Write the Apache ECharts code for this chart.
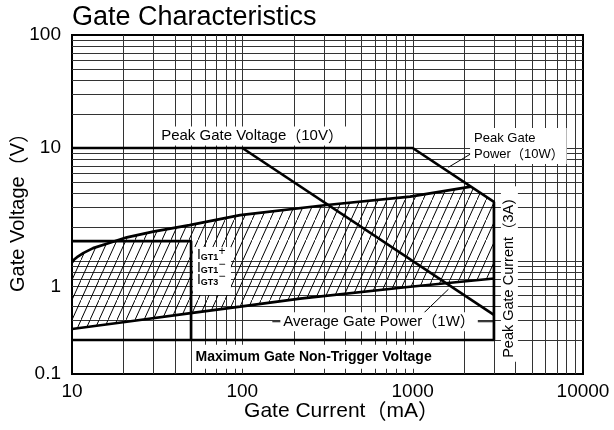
<!DOCTYPE html>
<html><head><meta charset="utf-8">
<script src="https://cdn.jsdelivr.net/npm/echarts@6/dist/echarts.min.js"></script>
<style>html,body{margin:0;padding:0;background:#fff}#c{width:614px;height:430px}</style>
</head><body><div id="c"></div>
<script>
// ---- data (mA, V) ----
const xTickLabels = ['10', '100', '1000', '10000'];
const yTickLabels = ['0.1', '1', '10', '100'];
const gridX = [20,30,40,50,60,70,80,90,100,200,300,400,500,600,700,800,900,1000,2000,3000,4000,5000,6000,7000,8000,9000];
const gridY = [0.2,0.3,0.4,0.5,0.6,0.7,0.8,0.9,1,2,3,4,5,6,7,8,9,10,20,30,40,50,60,70,80,90];
const peakBoundary = [[10,10],[1000,10],[3000,3.33],[3000,0.2],[10,0.2]];
const avgPower1W = [[100,10],[3000,0.333]];
const igtBox = [[10,1.5],[50,1.5],[50,0.2]];
const upperCurve = [[10,0.97],[10.3,1.03],[10.7,1.08],[11.7,1.18],[13.3,1.3],[16.7,1.45],[21,1.62],[30,1.82],[49,2.08],[97,2.55],[313,3.13],[966,3.71],[2200,4.55]];
const lowerCurve = [[10,0.25],[21,0.29],[51,0.347],[97,0.394],[218,0.464],[966,0.592],[3000,0.70]];
const hatchCorner = [[3000,3.33],[3000,0.70]];
const avgLeader = [[150,0.29],[3000,0.29]];
const arrowAvg = [[1156,0.344],[1621,0.562]];
const arrowPeak = [[2223,8.98],[1621,6.75]];

const LAT = "'Liberation Sans', Arial, sans-serif";
const CJK = "'Noto Sans CJK JP', sans-serif";
const chart = echarts.init(document.getElementById('c'), null, {renderer:'canvas'});

// rich text helper: Latin parts in Liberation Sans, full-width parentheses in Noto Sans CJK
function richText(s){
  return s.replace(/[^（）]+/g, m => '{a|' + m + '}').replace(/（/g, '{p|（}').replace(/）/g, '{p|）}');
}
function richStyles(size, weight){
  const w = weight || 'normal';
  return {a:{fontSize:size, fontFamily:LAT, fontWeight:w, color:'#000'}, p:{fontSize:size, fontFamily:CJK, fontWeight:w, color:'#000'}};
}

// hatch pattern tile
const tile = document.createElement('canvas');
tile.width = 9; tile.height = 20;
(function(){
  const g = tile.getContext('2d');
  g.strokeStyle = '#000'; g.lineWidth = 1;
  g.beginPath(); g.moveTo(-0.5, 21); g.lineTo(9.5, -1); g.stroke();
})();

function vGrid(params, api){
  const cs = params.coordSys;
  const x = Math.round(api.coord([api.value(0), 1])[0]) + 0.5;
  return {type:'line', silent:true, shape:{x1:x, y1:cs.y, x2:x, y2:cs.y+cs.height}, style:{stroke:'#333', lineWidth:1}};
}
function hGrid(params, api){
  const cs = params.coordSys;
  const y = Math.round(api.coord([10, api.value(1)])[1]) + 0.5;
  return {type:'line', silent:true, shape:{x1:cs.x, y1:y, x2:cs.x+cs.width, y2:y}, style:{stroke:'#333', lineWidth:1}};
}
function hatch(params, api){
  const pts = upperCurve.concat(hatchCorner, lowerCurve.slice().reverse()).map(p => api.coord(p));
  return {type:'polygon', silent:true, shape:{points:pts}, style:{fill:{image:tile, repeat:'repeat'}, stroke:null}};
}
function boldLine(data){
  return {type:'line', data:data, symbol:'none', silent:true, z:5, lineStyle:{color:'#000', width:2.7}, animation:false};
}

chart.setOption({
  animation:false,
  title:{text:'Gate Characteristics', left:72, top:4, padding:0,
    textStyle:{fontSize:27, fontWeight:'normal', color:'#000', fontFamily:LAT}},
  grid:{left:72, top:35, width:511, height:339, show:true, borderColor:'#000', borderWidth:2, backgroundColor:'#fff',
    outerBoundsMode:'none', containLabel:false},
  xAxis:{type:'log', logBase:10, min:10, max:10000,
    axisLine:{show:false}, axisTick:{show:false}, splitLine:{show:false},
    axisLabel:{fontSize:19, color:'#000', margin:8, fontFamily:LAT,
      formatter:v => xTickLabels[Math.round(Math.log10(v)) - 1]},
    name:richText('Gate Current（mA）'), nameLocation:'middle', nameGap:27, nameMoveOverlap:false,
    nameTextStyle:{fontSize:21, color:'#000', fontFamily:LAT, padding:[0,0,0,28], rich:richStyles(21)}},
  yAxis:{type:'log', logBase:10, min:0.1, max:100,
    axisLine:{show:false}, axisTick:{show:false}, splitLine:{show:false},
    axisLabel:{fontSize:19, color:'#000', margin:11, fontFamily:LAT,
      formatter:v => { const s = yTickLabels[Math.round(Math.log10(v)) + 1]; return s === '1' ? '{low|1}' : s; },
      rich:{low:{fontSize:19, color:'#000', fontFamily:LAT, padding:[52,0,0,0]}}},
    name:richText('Gate Voltage（V）'), nameLocation:'middle', nameGap:44, nameRotate:90, nameMoveOverlap:false,
    nameTextStyle:{fontSize:20, color:'#000', fontFamily:LAT, padding:[0,6,0,0], rich:richStyles(20)}},
  series:[
    {type:'custom', renderItem:vGrid, data:gridX.map(v=>[v,1]), z:1, silent:true, animation:false},
    {type:'custom', renderItem:hGrid, data:gridY.map(v=>[10,v]), z:1, silent:true, animation:false},
    {type:'custom', renderItem:hatch, data:[[10,1]], z:2, silent:true, animation:false},
    boldLine(peakBoundary),
    boldLine(avgPower1W),
    boldLine(igtBox),
    boldLine(upperCurve),
    boldLine(lowerCurve),
    {type:'line', data:avgLeader, symbol:'none', silent:true, z:4, lineStyle:{color:'#000', width:1}, animation:false,
      markLine:{silent:true, symbol:['none','arrow'], symbolSize:[0,7], label:{show:false}, animation:false,
        lineStyle:{type:'solid', color:'#000', width:1},
        data:[[{coord:arrowAvg[0]},{coord:arrowAvg[1]}],[{coord:arrowPeak[0]},{coord:arrowPeak[1]}]]}}
  ]
});

// ---- annotations (anchored in data coordinates) ----
const px = p => chart.convertToPixel({gridIndex:0}, p);
function txt(p, text, size, extra, weight){
  return {type:'text', z:100, silent:true, x:p[0], y:p[1],
    style:Object.assign({text:richText(text), rich:richStyles(size, weight), fill:'#000', align:'center', verticalAlign:'middle',
      backgroundColor:'#fff', padding:[2,3]}, extra||{})};
}

const pPGV = px([114, 12.8]);
const pPGP = px([2173, 10.4]);
const pAVG = px([635, 0.29]);
const pMAX = px([262, 0.142]);
const pPGC = px([3698, 0.767]);
const pIGT = px([51.3, 1.33]);

const graphics = [
  txt(pPGV, 'Peak Gate Voltage（10V）', 15, {padding:[2,4]}),
  txt(pPGP, 'Peak Gate\nPower（10W）', 13, {align:'left', lineHeight:16, padding:[2,3,2,4]}),
  txt(pAVG, 'Average Gate Power（1W）', 15, {padding:[2,3]}),
  txt(pMAX, 'Maximum Gate Non-Trigger Voltage', 14, {padding:[5,3]}, 'bold'),
  Object.assign(txt(pPGC, 'Peak Gate Current（3A）', 14.5, {padding:[1,4]}), {rotation:Math.PI/2}),
  {type:'rect', z:100, silent:true, shape:{x:pIGT[0], y:pIGT[1], width:38, height:48}, style:{fill:'#fff'}},
  {type:'text', z:101, silent:true, x:pIGT[0]+4, y:pIGT[1]+3,
    style:{text:'{i|I}{s|GT1}\n{i|I}{s|GT1}\n{i|I}{s|GT3}', fill:'#000', lineHeight:12.5,
      rich:{i:{font:'14px ' + LAT, verticalAlign:'bottom', lineHeight:12.5}, s:{font:'bold 9px ' + LAT, verticalAlign:'bottom', lineHeight:11}}}},
  {type:'text', z:101, silent:true, x:pIGT[0]+29, y:pIGT[1]+5, style:{text:'+', font:'12px ' + LAT, fill:'#000', align:'center', verticalAlign:'middle'}},
  {type:'text', z:101, silent:true, x:pIGT[0]+29, y:pIGT[1]+18, style:{text:'−', font:'12px ' + LAT, fill:'#000', align:'center', verticalAlign:'middle'}},
  {type:'text', z:101, silent:true, x:pIGT[0]+29, y:pIGT[1]+30, style:{text:'−', font:'12px ' + LAT, fill:'#000', align:'center', verticalAlign:'middle'}}
];
chart.setOption({graphic:graphics});
</script></body></html>
